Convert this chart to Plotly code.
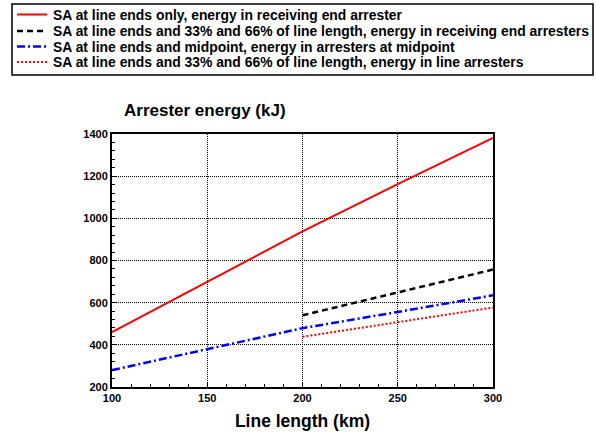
import plotly.graph_objects as go

# Data
x_full = [100, 150, 200, 250, 300]
sa_ends_only = [460, 700, 938, 1162, 1382]
sa_mid = [280, 380, 479, 556, 635]

x_part = [200, 250, 300]
sa_33_66_recv = [540, 650, 757]
sa_33_66_line = [438, 509, 577]

names = [
    "SA at line ends only, energy in receiving end arrester",
    "SA at line ends and 33% and 66% of line length, energy in receiving end arresters",
    "SA at line ends and midpoint, energy in arresters at midpoint",
    "SA at line ends and 33% and 66% of line length, energy in line arresters",
]
styles = [
    dict(color="#ff0000", width=2, dash="solid"),
    dict(color="#000000", width=2.5, dash="6px,4px"),
    dict(color="#0000ff", width=2.5, dash="8px,3px,2px,3px"),
    dict(color="#ff0000", width=2, dash="2px,2px"),
]

FONT = "Liberation Sans, Arial, sans-serif"
W, H = 596, 433
L, R, T, B = 112, 103, 134, 46
PW, PH = W - L - R, H - T - B


def px(xp):
    return (xp - L) / PW


def py(yp):
    return (H - B - yp) / PH


fig = go.Figure()
series = [(x_full, sa_ends_only), (x_part, sa_33_66_recv), (x_full, sa_mid), (x_part, sa_33_66_line)]
for (xs, ys), nm, st in zip(series, names, styles):
    fig.add_trace(go.Scatter(x=xs, y=ys, mode="lines", name=nm, line=st, showlegend=False))

axis_common = dict(
    showline=True, linecolor="black", linewidth=2, mirror=True,
    showgrid=True, gridcolor="black", gridwidth=1, griddash="1px,1px",
    zeroline=False, ticks="inside", ticklen=5, tickcolor="black", tickwidth=1,
    tickfont=dict(family=FONT, size=11, color="black", weight="bold"),
)

shapes = []
annotations = []
# legend box
shapes.append(dict(type="rect", xref="paper", yref="paper",
                   x0=px(12), x1=px(593), y0=py(75), y1=py(4),
                   line=dict(color="black", width=1.5), fillcolor="white", layer="above"))
entry_y = [14.5, 31, 46.5, 62]
for nm, st, ey in zip(names, styles, entry_y):
    shapes.append(dict(type="line", xref="paper", yref="paper",
                       x0=px(17), x1=px(47), y0=py(ey), y1=py(ey),
                       line=dict(color=st["color"], width=st["width"], dash=st["dash"]),
                       layer="above"))
    annotations.append(dict(text=nm, x=px(51), y=py(ey), xref="paper", yref="paper",
                            xanchor="left", yanchor="middle", showarrow=False,
                            font=dict(family=FONT, size=13.9, color="black", weight="bold")))

annotations.append(dict(text="Arrester energy (kJ)", x=px(122), y=py(110),
                        xref="paper", yref="paper", xanchor="left", yanchor="middle",
                        showarrow=False,
                        font=dict(family=FONT, size=17, color="black", weight="bold")))

fig.update_layout(
    width=W, height=H,
    margin=dict(l=L, r=R, t=T, b=B, autoexpand=False),
    paper_bgcolor="white", plot_bgcolor="white",
    font=dict(family=FONT, color="black"),
    showlegend=False,
    xaxis=dict(
        range=[100, 300], tick0=100, dtick=50,
        minor=dict(dtick=10, ticks="inside", ticklen=3, tickcolor="black", showgrid=False),
        title=dict(text="Line length (km)", standoff=12,
                   font=dict(family=FONT, size=17.5, color="black", weight="bold")),
        **axis_common,
    ),
    yaxis=dict(
        range=[200, 1400], tick0=200, dtick=200,
        minor=dict(dtick=40, ticks="inside", ticklen=3, tickcolor="black", showgrid=False),
        **axis_common,
    ),
    shapes=shapes,
    annotations=annotations,
)

fig.write_html("out.html", config={"displayModeBar": False},
               post_script="document.body.style.margin='0';document.body.style.overflow='hidden';")
